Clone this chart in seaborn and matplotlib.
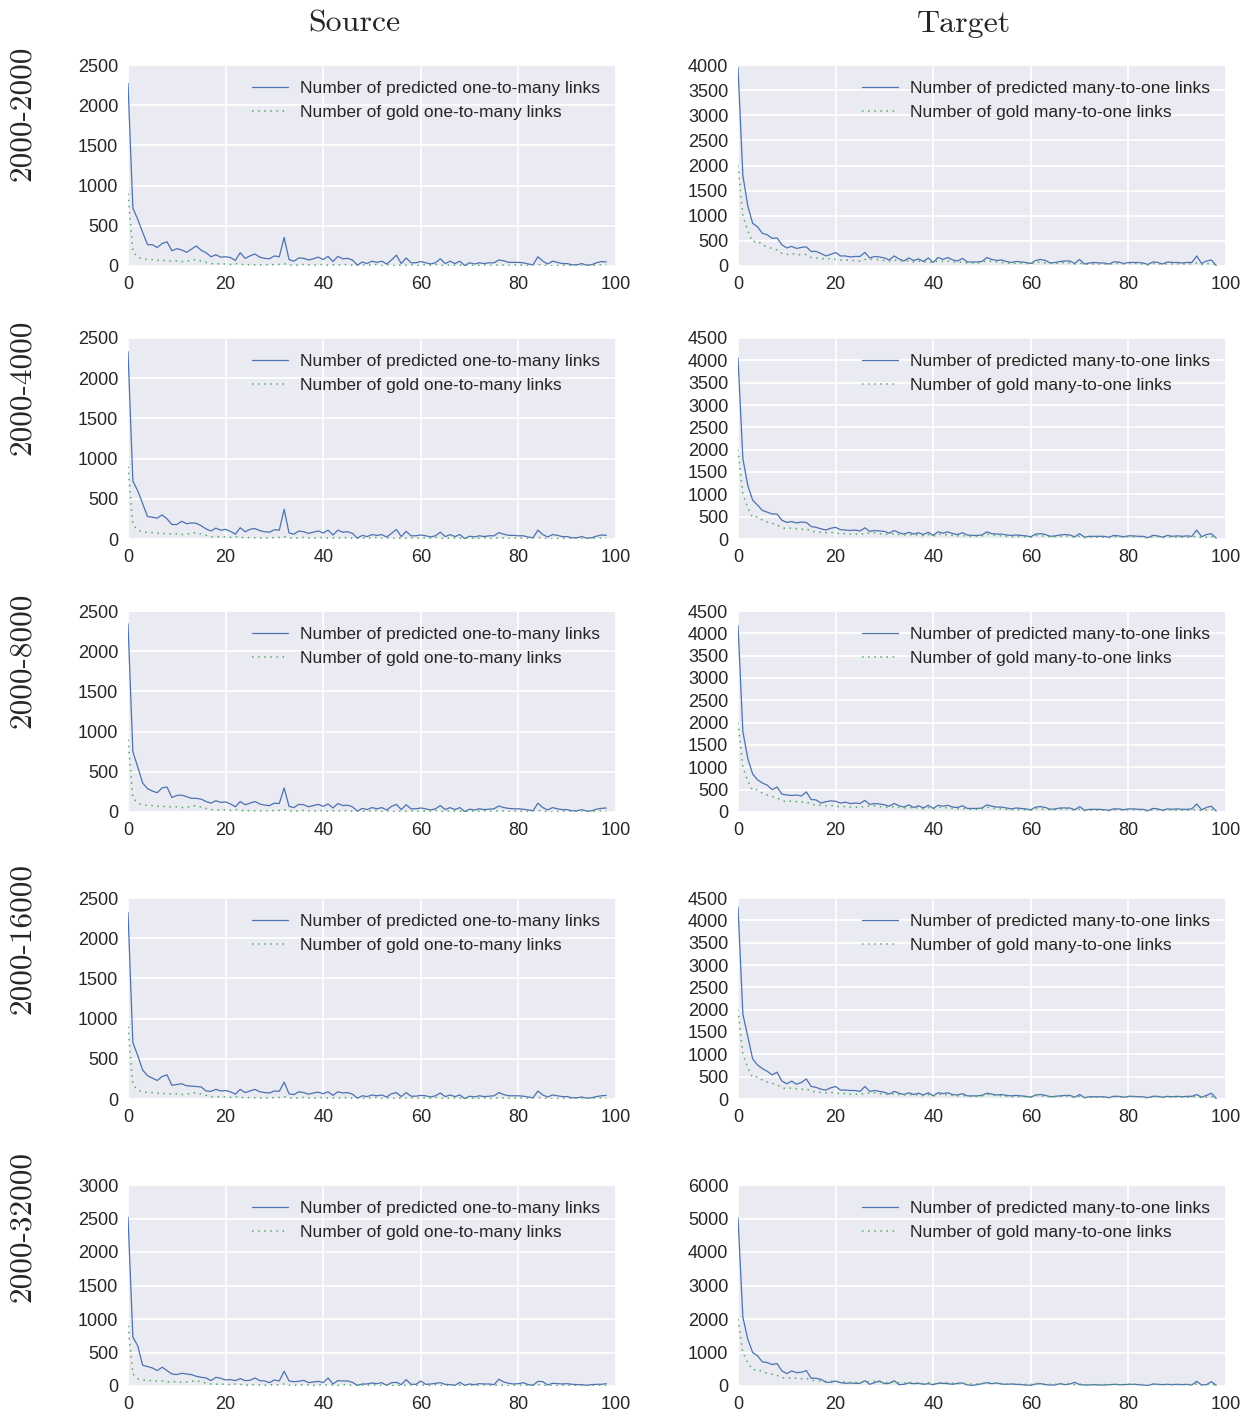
import numpy as np
import seaborn as sns
import matplotlib.pyplot as plt
from matplotlib.ticker import MultipleLocator

# ---- data ----
rows = ["2000-2000", "2000-4000", "2000-8000", "2000-16000", "2000-32000"]
x = list(range(99))

src_gold = [900, 180, 110, 90, 80, 80, 70, 75, 60, 65,
            65, 55, 60, 70, 80, 60, 45, 30, 25, 30,
            25, 20, 30, 25, 10, 20, 15, 15, 10, 20,
            15, 20, 30, 10, 15, 10, 20, 15, 10, 15,
            20, 10, 15, 10, 20, 15, 10, 0, 10, 15,
            10, 20, 5, 15, 10, 0, 15, 10, 15, 5,
            10, 15, 10, 20, 10, 5, 15, 10, 10, 0,
            10, 5, 10, 15, 5, 10, 15, 10, 5, 10,
            15, 10, 5, 15, 20, 10, 5, 0, 5, 10,
            5, 10, 5, 0, 10, 5, 10, 15, 10]

src_pred_2000 = [2270, 720, 580, 420, 265, 265, 230, 280, 300, 190,
                 215, 200, 170, 210, 250, 195, 165, 115, 140, 110,
                 115, 105, 70, 165, 95, 125, 150, 110, 95, 90,
                 125, 115, 355, 80, 60, 100, 95, 75, 90, 110,
                 80, 120, 55, 120, 90, 95, 75, 10, 50, 30,
                 60, 45, 60, 25, 75, 135, 30, 100, 40, 40,
                 55, 40, 25, 40, 90, 30, 60, 30, 60, 5,
                 40, 25, 40, 30, 40, 40, 75, 65, 45, 45,
                 45, 40, 25, 15, 115, 60, 25, 60, 45, 30,
                 30, 15, 15, 30, 10, 15, 40, 55, 50]

src_pred_4000 = [2330, 720, 600, 440, 280, 270, 260, 300, 250, 180,
                 180, 220, 190, 200, 195, 165, 125, 100, 135, 110,
                 120, 95, 60, 140, 90, 120, 130, 105, 90, 85,
                 115, 110, 370, 75, 60, 100, 90, 70, 85, 100,
                 75, 110, 50, 110, 85, 90, 70, 10, 45, 30,
                 55, 45, 55, 25, 70, 120, 30, 95, 40, 40,
                 50, 40, 25, 40, 85, 30, 55, 30, 55, 5,
                 35, 25, 40, 30, 40, 40, 80, 60, 45, 45,
                 40, 40, 25, 15, 110, 55, 25, 55, 45, 30,
                 30, 15, 15, 30, 10, 15, 35, 50, 45]

src_pred_8000 = [2340, 750, 560, 360, 290, 260, 240, 300, 310, 180,
                 205, 210, 190, 170, 170, 160, 130, 110, 140, 120,
                 125, 100, 65, 130, 90, 110, 130, 100, 85, 80,
                 110, 105, 300, 70, 55, 95, 90, 65, 80, 95,
                 70, 100, 50, 105, 80, 85, 65, 10, 45, 30,
                 55, 40, 55, 25, 70, 95, 30, 90, 40, 40,
                 50, 40, 25, 40, 80, 30, 55, 30, 55, 5,
                 35, 25, 40, 30, 35, 40, 75, 55, 45, 40,
                 40, 35, 25, 15, 110, 55, 25, 55, 40, 30,
                 30, 15, 15, 30, 10, 15, 35, 45, 50]

src_pred_16000 = [2320, 700, 540, 360, 290, 260, 230, 280, 300, 170,
                  180, 190, 165, 160, 155, 150, 100, 95, 120, 100,
                  105, 90, 60, 120, 80, 100, 120, 90, 80, 75,
                  100, 95, 210, 65, 55, 90, 80, 60, 75, 85,
                  65, 90, 45, 90, 75, 80, 60, 10, 40, 30,
                  50, 40, 50, 25, 65, 80, 30, 80, 35, 35,
                  45, 40, 25, 40, 75, 30, 50, 30, 50, 5,
                  35, 25, 40, 30, 35, 40, 80, 55, 40, 40,
                  40, 35, 25, 15, 100, 50, 25, 50, 40, 30,
                  30, 15, 15, 25, 10, 15, 30, 40, 45]

src_pred_32000 = [2520, 730, 600, 310, 290, 270, 230, 280, 230, 180,
                  170, 190, 180, 170, 145, 130, 120, 80, 130, 115,
                  90, 95, 80, 110, 80, 85, 120, 80, 75, 50,
                  90, 75, 220, 75, 65, 70, 85, 50, 60, 70,
                  50, 120, 30, 80, 75, 75, 55, 10, 30, 30,
                  45, 35, 50, 10, 50, 55, 20, 95, 25, 25,
                  75, 25, 30, 40, 50, 25, 20, 10, 55, 10,
                  30, 20, 35, 30, 30, 20, 100, 60, 40, 30,
                  35, 50, 20, 10, 70, 65, 15, 40, 35, 30,
                  35, 25, 20, 20, 10, 20, 25, 25, 35]

tgt_gold = [2000, 1000, 700, 480, 500, 420, 380, 350, 320, 250,
            230, 250, 230, 220, 230, 170, 160, 150, 140, 150,
            130, 120, 120, 110, 110, 100, 130, 130, 140, 120,
            110, 100, 120, 100, 90, 110, 80, 100, 70, 100,
            60, 110, 90, 100, 80, 70, 80, 60, 60, 60,
            70, 110, 90, 80, 70, 60, 50, 60, 50, 50,
            40, 80, 70, 60, 50, 50, 60, 70, 60, 40,
            60, 30, 40, 40, 40, 40, 30, 50, 50, 40,
            50, 50, 50, 40, 20, 50, 50, 30, 50, 40,
            40, 40, 40, 40, 60, 30, 40, 60, 20]

tgt_pred_2000 = [3950, 1800, 1200, 850, 780, 650, 620, 550, 560, 420,
                 360, 390, 350, 370, 380, 290, 290, 250, 200, 230,
                 270, 200, 200, 180, 190, 190, 270, 160, 190, 180,
                 160, 120, 200, 140, 100, 160, 110, 140, 90, 160,
                 70, 170, 130, 170, 120, 100, 150, 80, 80, 80,
                 90, 170, 130, 110, 120, 90, 70, 90, 80, 70,
                 50, 110, 130, 110, 60, 70, 90, 100, 100, 50,
                 130, 40, 60, 70, 60, 60, 40, 80, 80, 50,
                 70, 70, 70, 60, 30, 80, 70, 40, 80, 70,
                 70, 60, 70, 70, 200, 50, 100, 120, 10]

tgt_pred_4000 = [4050, 1800, 1200, 870, 760, 640, 600, 560, 560, 420,
                 370, 390, 360, 380, 370, 280, 260, 230, 200, 240,
                 260, 210, 200, 190, 200, 180, 250, 170, 190, 180,
                 170, 130, 190, 140, 110, 150, 110, 140, 100, 150,
                 80, 160, 130, 160, 120, 100, 140, 90, 80, 80,
                 90, 160, 120, 110, 110, 90, 80, 90, 80, 70,
                 50, 110, 120, 100, 60, 70, 90, 100, 90, 50,
                 120, 40, 60, 60, 60, 60, 40, 80, 70, 50,
                 70, 70, 60, 60, 30, 80, 70, 40, 80, 60,
                 70, 60, 70, 60, 200, 50, 100, 120, 20]

tgt_pred_8000 = [4180, 1800, 1200, 850, 720, 650, 600, 500, 560, 400,
                 380, 370, 380, 360, 450, 280, 270, 200, 230, 250,
                 240, 200, 220, 190, 200, 190, 260, 170, 190, 180,
                 160, 130, 190, 140, 110, 160, 100, 140, 90, 150,
                 80, 150, 130, 150, 110, 100, 140, 80, 80, 80,
                 90, 160, 130, 110, 110, 90, 70, 90, 80, 70,
                 50, 110, 120, 100, 60, 70, 90, 90, 90, 50,
                 120, 40, 60, 60, 60, 50, 40, 70, 70, 50,
                 70, 70, 60, 60, 30, 80, 70, 40, 70, 60,
                 70, 60, 60, 70, 180, 50, 100, 130, 20]

tgt_pred_16000 = [4300, 1900, 1400, 900, 760, 680, 620, 540, 600, 400,
                  340, 400, 330, 370, 450, 280, 260, 220, 200, 250,
                  280, 200, 200, 190, 190, 170, 280, 170, 190, 170,
                  150, 110, 170, 130, 100, 140, 100, 130, 90, 140,
                  70, 140, 120, 140, 100, 90, 120, 70, 70, 70,
                  80, 130, 110, 90, 100, 80, 70, 80, 70, 60,
                  40, 90, 100, 80, 50, 60, 70, 80, 80, 40,
                  100, 30, 50, 50, 50, 50, 30, 60, 60, 40,
                  60, 60, 50, 50, 30, 60, 60, 40, 60, 50,
                  60, 50, 60, 60, 100, 40, 80, 130, 10]

tgt_pred_32000 = [5020, 2050, 1400, 1000, 900, 720, 700, 640, 670, 450,
                  370, 450, 400, 410, 460, 230, 230, 200, 110, 110,
                  150, 100, 80, 90, 80, 80, 160, 50, 100, 150,
                  70, 80, 160, 40, 50, 90, 70, 80, 50, 70,
                  40, 80, 80, 70, 50, 80, 90, 30, 20, 40,
                  70, 100, 70, 90, 60, 50, 60, 50, 40, 30,
                  20, 60, 70, 40, 30, 30, 70, 40, 60, 110,
                  40, 30, 30, 40, 30, 30, 40, 50, 40, 40,
                  50, 50, 40, 30, 10, 60, 50, 40, 50, 40,
                  50, 40, 50, 30, 140, 30, 40, 130, 20]

src_preds = [src_pred_2000, src_pred_4000, src_pred_8000, src_pred_16000, src_pred_32000]
tgt_preds = [tgt_pred_2000, tgt_pred_4000, tgt_pred_8000, tgt_pred_16000, tgt_pred_32000]
src_ymax = [2500, 2500, 2500, 2500, 3000]
tgt_ymax = [4000, 4500, 4500, 4500, 6000]
src_step = [500, 500, 500, 500, 500]
tgt_step = [500, 500, 500, 500, 1000]

# ---- style ----
sns.set_style("darkgrid", {"axes.facecolor": "#EAEAF2", "grid.color": "white"})
plt.rcParams['font.family'] = ['Liberation Sans', 'DejaVu Sans']
plt.rcParams['text.color'] = '#262626'
plt.rcParams['xtick.color'] = '#262626'
plt.rcParams['ytick.color'] = '#262626'
plt.rcParams['grid.linewidth'] = 1.3

BLUE = "#4C72B0"
GREEN = "#55A868"

W, H = 1250, 1414
fig = plt.figure(figsize=(W / 100, H / 100), dpi=100)

col_left = [128, 738]
col_w = 488
row_top = [65, 338, 611, 898, 1185]
row_h = 201
row_lab_y = [113, 387, 660, 938, 1226]

for i, r in enumerate(rows):
    for j in range(2):
        ax = fig.add_axes([col_left[j] / W, 1 - (row_top[i] + row_h) / H, col_w / W, row_h / H])
        if j == 0:
            pred, gold, kind = src_preds[i], src_gold, "one-to-many"
            ymax, step = src_ymax[i], src_step[i]
        else:
            pred, gold, kind = tgt_preds[i], tgt_gold, "many-to-one"
            ymax, step = tgt_ymax[i], tgt_step[i]
        sns.lineplot(x=x, y=pred, ax=ax, color=BLUE, linewidth=0.9,
                     label="Number of predicted %s links" % kind)
        sns.lineplot(x=x, y=gold, ax=ax, color=GREEN, linewidth=1.1,
                     linestyle=(0, (1, 3)), label="Number of gold %s links" % kind)
        ax.set_xlim(0, 100)
        ax.set_ylim(0, ymax)
        ax.xaxis.set_major_locator(MultipleLocator(20))
        ax.yaxis.set_major_locator(MultipleLocator(step))
        ax.tick_params(labelsize=13, length=0, pad=7)
        for s in ax.spines.values():
            s.set_visible(False)
        ax.legend(loc="upper right", frameon=False, fontsize=12.5, handlelength=2.1,
                  handletextpad=0.7, labelspacing=0.55)
    fig.text(22 / W, 1 - row_lab_y[i] / H, r, rotation=90, ha="center", va="center",
             fontsize=22.5, family="cmr10")

fig.text(354 / W, 1 - 24 / H, "Source", ha="center", va="center", fontsize=23, family="cmr10")
fig.text(964 / W, 1 - 24 / H, "Target", ha="center", va="center", fontsize=23, family="cmr10")

fig.savefig("out.png", dpi=100)
